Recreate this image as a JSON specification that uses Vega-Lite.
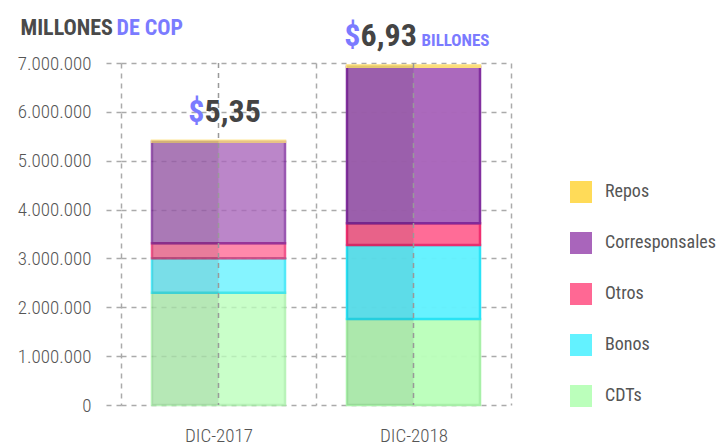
{
  "$schema": "https://vega.github.io/schema/vega-lite/v6.json",
  "width": 390,
  "height": 342,
  "autosize": {"type": "none"},
  "padding": {"left": 121, "top": 63, "right": 209, "bottom": 40},
  "background": "white",
  "config": {
    "font": "Roboto Condensed, Liberation Sans Narrow, DejaVu Sans Condensed, sans-serif",
    "view": {"stroke": null},
    "locale": {"number": {"decimal": ",", "thousands": ".", "grouping": [3], "currency": ["$", ""]}},
    "axis": {
      "zindex": 1,
      "domain": false,
      "gridDash": [5, 5],
      "gridColor": "#aaaaaa",
      "gridWidth": 1.5,
      "tickDash": [5, 5],
      "tickColor": "#aaaaaa",
      "tickWidth": 1.5,
      "labelFontSize": 19,
      "labelColor": "#555555",
      "labelFontWeight": 300
    },
    "legend": {
      "orient": "none",
      "legendX": 449,
      "legendY": 118,
      "symbolType": "square",
      "symbolSize": 484,
      "symbolStrokeWidth": 0,
      "symbolOpacity": 1,
      "labelFontSize": 18,
      "labelColor": "#555555",
      "labelOffset": 13,
      "rowPadding": 29
    }
  },
  "datasets": {
    "montos": [
      {"periodo": "DIC-2017", "categoria": "CDTs", "orden": 1, "valor": 2300000},
      {"periodo": "DIC-2017", "categoria": "Bonos", "orden": 2, "valor": 705000},
      {"periodo": "DIC-2017", "categoria": "Otros", "orden": 3, "valor": 307000},
      {"periodo": "DIC-2017", "categoria": "Corresponsales", "orden": 4, "valor": 2076000},
      {"periodo": "DIC-2017", "categoria": "Repos", "orden": 5, "valor": 20000},
      {"periodo": "DIC-2018", "categoria": "CDTs", "orden": 1, "valor": 1760000},
      {"periodo": "DIC-2018", "categoria": "Bonos", "orden": 2, "valor": 1516000},
      {"periodo": "DIC-2018", "categoria": "Otros", "orden": 3, "valor": 445000},
      {"periodo": "DIC-2018", "categoria": "Corresponsales", "orden": 4, "valor": 3200000},
      {"periodo": "DIC-2018", "categoria": "Repos", "orden": 5, "valor": 30000}
    ],
    "totales": [
      {"periodo": "DIC-2017", "total": 5408000, "cifra": "5,35", "unidad": ""},
      {"periodo": "DIC-2018", "total": 6951000, "cifra": "6,93", "unidad": "BILLONES"}
    ]
  },
  "layer": [
    {
      "data": {"name": "montos"},
      "mark": {"type": "bar", "width": {"band": 0.682}, "strokeWidth": 2.5},
      "encoding": {
        "x": {
          "field": "periodo",
          "type": "nominal",
          "scale": {"paddingInner": 0, "paddingOuter": 0},
          "axis": {
            "labelAngle": 0,
            "ticks": false,
            "labelPadding": 21,
            "grid": true,
            "tickBand": "extent",
            "title": "DE COP",
            "titleAngle": 0,
            "titleAlign": "left",
            "titleBaseline": "alphabetic",
            "titleX": -5,
            "titleY": -371,
            "titleFontSize": 22,
            "titleFontWeight": "bold",
            "titleColor": "#7b7bff"
          }
        },
        "y": {
          "field": "valor",
          "type": "quantitative",
          "stack": "zero",
          "scale": {"domain": [0, 7000000], "nice": false},
          "axis": {
            "values": [0, 1000000, 2000000, 3000000, 4000000, 5000000, 6000000, 7000000],
            "format": ",d",
            "tickSize": 20,
            "labelPadding": 10,
            "title": "MILLONES",
            "titleAngle": 0,
            "titleAlign": "left",
            "titleBaseline": "alphabetic",
            "titleX": -101,
            "titleY": -29,
            "titleFontSize": 22,
            "titleFontWeight": "bold",
            "titleColor": "#4a4a4a"
          }
        },
        "color": {
          "field": "categoria",
          "type": "nominal",
          "scale": {
            "domain": ["Repos", "Corresponsales", "Otros", "Bonos", "CDTs"],
            "range": ["#ffdb58", "#a965bb", "#ff6894", "#63f2ff", "#bbffbb"]
          },
          "legend": {"title": null}
        },
        "stroke": {
          "field": "categoria",
          "type": "nominal",
          "scale": {
            "domain": ["Repos", "Corresponsales", "Otros", "Bonos", "CDTs"],
            "range": ["#ffe27a", "#7e2a9c", "#f02a6c", "#25e3f7", "#a6f0a6"]
          },
          "legend": null
        },
        "opacity": {
          "field": "periodo",
          "type": "nominal",
          "scale": {"domain": ["DIC-2017", "DIC-2018"], "range": [0.78, 0.97]},
          "legend": null
        },
        "order": {"field": "orden", "type": "quantitative"}
      }
    },
    {
      "data": {"name": "montos"},
      "mark": {"type": "bar", "color": "#000000", "opacity": 0.09},
      "encoding": {
        "x": {"field": "periodo", "type": "nominal"},
        "xOffset": {"datum": "izq", "scale": {"domain": ["izq", "der"], "paddingInner": 0, "paddingOuter": 0.466}},
        "y": {"aggregate": "sum", "field": "valor", "type": "quantitative"}
      }
    },
    {
      "data": {"name": "totales"},
      "mark": {"type": "rule", "color": "#999999", "strokeWidth": 1.5, "strokeDash": [5, 5]},
      "encoding": {"x": {"field": "periodo", "type": "nominal"}}
    },
    {
      "data": {"name": "totales"},
      "mark": {"type": "text", "align": "right", "baseline": "alphabetic", "fontSize": 32, "fontWeight": "bold", "color": "#7b7bff", "dy": -19, "dx": {"expr": "datum.unidad == '' ? -14 : -53"}},
      "encoding": {
        "x": {"field": "periodo", "type": "nominal"},
        "y": {"field": "total", "type": "quantitative"},
        "text": {"value": "$"}
      }
    },
    {
      "data": {"name": "totales"},
      "mark": {"type": "text", "align": "left", "baseline": "alphabetic", "fontSize": 32, "fontWeight": "bold", "color": "#444444", "dy": -19, "dx": {"expr": "datum.unidad == '' ? -14 : -53"}},
      "encoding": {
        "x": {"field": "periodo", "type": "nominal"},
        "y": {"field": "total", "type": "quantitative"},
        "text": {"field": "cifra"}
      }
    },
    {
      "data": {"name": "totales"},
      "mark": {"type": "text", "align": "left", "baseline": "alphabetic", "fontSize": 17, "fontWeight": "bold", "color": "#7b7bff", "dy": -19, "dx": 8},
      "encoding": {
        "x": {"field": "periodo", "type": "nominal"},
        "y": {"field": "total", "type": "quantitative"},
        "text": {"field": "unidad"}
      }
    }
  ]
}
